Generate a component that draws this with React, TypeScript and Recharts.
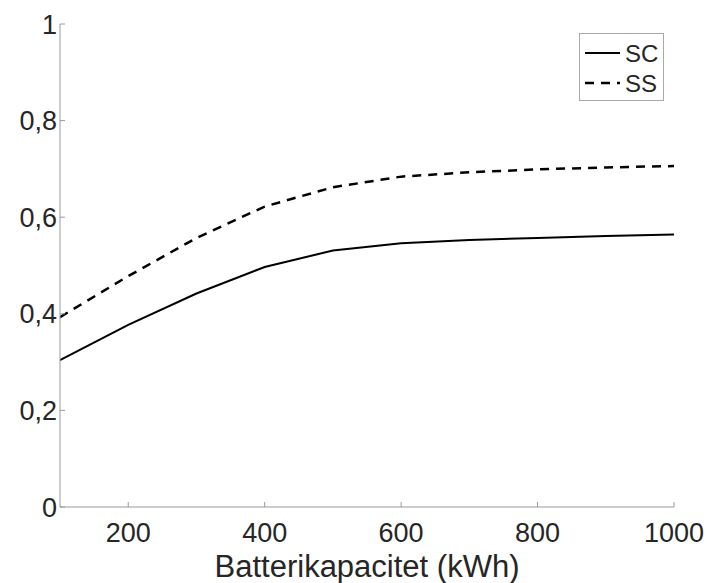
import React from 'react';
import { LineChart, Line, XAxis, YAxis, Legend } from 'recharts';

const capacity = [100, 200, 300, 400, 500, 600, 700, 800, 900, 1000];
const scValues = [0.304, 0.377, 0.442, 0.497, 0.531, 0.546, 0.553, 0.557, 0.561, 0.564];
const ssValues = [0.393, 0.478, 0.557, 0.622, 0.662, 0.684, 0.693, 0.699, 0.703, 0.706];
const xTicks = [200, 400, 600, 800, 1000];
const yTicks = [0, 0.2, 0.4, 0.6, 0.8, 1];
const xLabel = 'Batterikapacitet (kWh)';

const data = capacity.map((c, i) => ({ x: c, SC: scValues[i], SS: ssValues[i] }));

const FONT = '"Liberation Sans", Arial, Helvetica, sans-serif';
const AXIS = '#9a9a9a';
const TEXT = '#262626';

const fmtY = (v: number) => (v === 0 || v === 1 ? String(v) : v.toFixed(1).replace('.', ','));

const LegendBox = () => (
  <div
    style={{
      position: 'absolute',
      left: 579,
      top: 33,
      width: 83,
      height: 66,
      border: '1px solid #aaaaaa',
      background: '#fff',
      fontFamily: FONT,
      fontSize: 24,
      color: TEXT,
      boxSizing: 'content-box',
    }}
  >
    <svg width={83} height={66} style={{ position: 'absolute', left: 0, top: 0 }}>
      <line x1={5} x2={40} y1={19} y2={19} stroke="#000" strokeWidth={2} />
      <line x1={5} x2={40} y1={49} y2={49} stroke="#000" strokeWidth={2.5} strokeDasharray="9 7" />
      <text x={45} y={27.5} fontFamily={FONT} fontSize={24} fill={TEXT}>SC</text>
      <text x={45} y={57.5} fontFamily={FONT} fontSize={24} fill={TEXT}>SS</text>
    </svg>
  </div>
);

export default function App() {
  return (
    <div style={{ position: 'absolute', left: 0, top: 0, width: 707, height: 583, background: '#fff' }}>
      <LineChart
        width={707}
        height={583}
        data={data}
        margin={{ top: 24, right: 33, bottom: 0, left: 0 }}
      >
        <XAxis
          dataKey="x"
          type="number"
          domain={[100, 1000]}
          ticks={xTicks}
          allowDataOverflow
          stroke={AXIS}
          tickSize={-5}
          tickMargin={7}
          height={76}
          tick={{ fill: TEXT, fontSize: 27, fontFamily: FONT, dy: 14 }}
          tickLine={{ stroke: AXIS }}
          label={{
            value: xLabel,
            position: 'insideBottom',
            offset: 0,
            dy: -6,
            fill: TEXT,
            fontSize: 31,
            fontFamily: FONT,
          }}
        />
        <YAxis
          type="number"
          domain={[0, 1]}
          ticks={yTicks}
          width={60}
          stroke={AXIS}
          tickSize={-5}
          tickMargin={8}
          tickFormatter={fmtY}
          tick={{ fill: TEXT, fontSize: 27, fontFamily: FONT }}
          tickLine={{ stroke: AXIS }}
        />
        <Line
          dataKey="SC"
          stroke="#000"
          strokeWidth={2}
          dot={false}
          isAnimationActive={false}
          type="linear"
        />
        <Line
          dataKey="SS"
          stroke="#000"
          strokeWidth={2.5}
          strokeDasharray="9 7"
          dot={false}
          isAnimationActive={false}
          type="linear"
        />
        <Legend content={() => null} />
      </LineChart>
      <LegendBox />
    </div>
  );
}
